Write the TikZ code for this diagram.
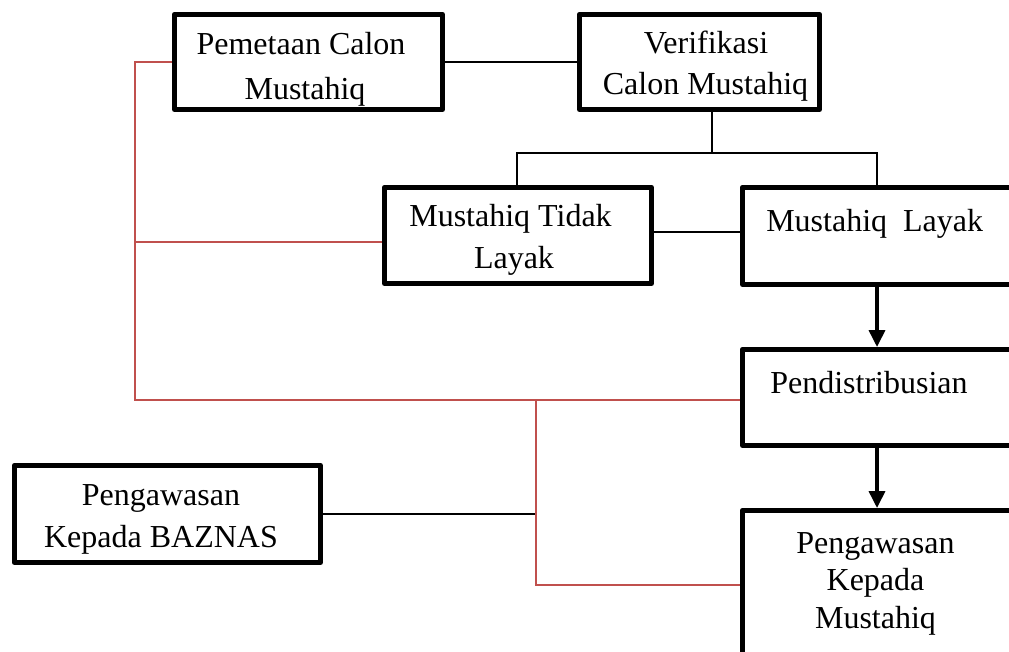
\documentclass[tikz,border=0pt]{standalone}
\usepackage{fontspec}
\setmainfont{Liberation Serif}
\usetikzlibrary{arrows.meta}
\definecolor{redline}{RGB}{192,80,77}
\tikzset{
  box/.style={draw=black, line width=3.9pt, line join=round, rectangle, inner sep=0pt},
  conn/.style={draw=black, line width=1.1pt},
  redconn/.style={draw=redline, line width=1.2pt},
  arr/.style={draw=black, line width=2.3pt, -{Triangle[length=12.5pt,width=12pt]}},
  lbl/.style={anchor=base, inner sep=0pt, font=\fontsize{24}{30}\selectfont},
}
\begin{document}
\begin{tikzpicture}[x=0.75pt,y=-0.75pt]
\useasboundingbox (0,0) rectangle (1009,652);
\clip (0,0) rectangle (1009,652);
% boxes
\node[box, minimum width=268*0.75pt, minimum height=95*0.75pt] (pemetaan) at (308.5,62) {};
\node[box, minimum width=240*0.75pt, minimum height=95*0.75pt] (verif) at (699.5,62) {};
\node[box, minimum width=267*0.75pt, minimum height=96*0.75pt] (tidak) at (518,235.5) {};
\node[box, minimum width=297*0.75pt, minimum height=97*0.75pt] (layak) at (891,236) {};
\node[box, minimum width=297*0.75pt, minimum height=96*0.75pt] (distr) at (891,397.5) {};
\node[box, minimum width=297*0.75pt, minimum height=170*0.75pt] (pm) at (891,595.5) {};
\node[box, minimum width=306*0.75pt, minimum height=97*0.75pt] (baznas) at (167.5,514) {};
% labels
\node[lbl] (t1a) at (301,55) {Pemetaan Calon};
\node[lbl] (t1b) at (305,100) {Mustahiq};
\node[lbl] (t2a) at (706,54) {Verifikasi};
\node[lbl] (t2b) at (705.5,95) {Calon Mustahiq};
\node[lbl] (t3a) at (510.5,227) {Mustahiq Tidak};
\node[lbl] (t3b) at (514,268) {Layak};
\node[lbl, anchor=base west] (t4) at (766,232) {Mustahiq\ \ Layak};
\node[lbl, anchor=base west] (t5) at (770,393) {Pendistribusian};
\node[lbl] (t6a) at (875.5,553) {Pengawasan};
\node[lbl] (t6b) at (875.5,590) {Kepada};
\node[lbl] (t6c) at (875.5,628) {Mustahiq};
\node[lbl] (t7a) at (161,505) {Pengawasan};
\node[lbl] (t7b) at (161,547) {Kepada BAZNAS};
% helper coordinates
\coordinate (bus) at (712,153);
\coordinate (tl) at (517,153);
\coordinate (la) at (877,153);
\coordinate (rl) at (135,400);
\coordinate (rb) at (135,242);
\coordinate (rj) at (536,400);
\coordinate (rk) at (536,585);
\coordinate (mid) at (0,232);
% black connectors
\draw[conn] (pemetaan.east) -- (verif.west);
\draw[conn] (verif.south -| bus) -- (bus);
\draw[conn] (tidak.north -| tl) -- (tl) -- (la) -- (layak.north -| la);
\draw[conn] (tidak.east |- mid) -- (layak.west |- mid);
\draw[conn] (baznas.east) -- (baznas.east -| rj);
% arrows
\draw[arr] (layak.south -| la) -- (distr.north -| la);
\draw[arr] (distr.south -| la) -- (pm.north -| la);
% red connectors
\draw[redconn] (pemetaan.west) -| (rl) -- (rl -| distr.west);
\draw[redconn] (rb) -- (rb -| tidak.west);
\draw[redconn] (rj) -- (rk) -- (rk -| pm.west);
\end{tikzpicture}
\end{document}
